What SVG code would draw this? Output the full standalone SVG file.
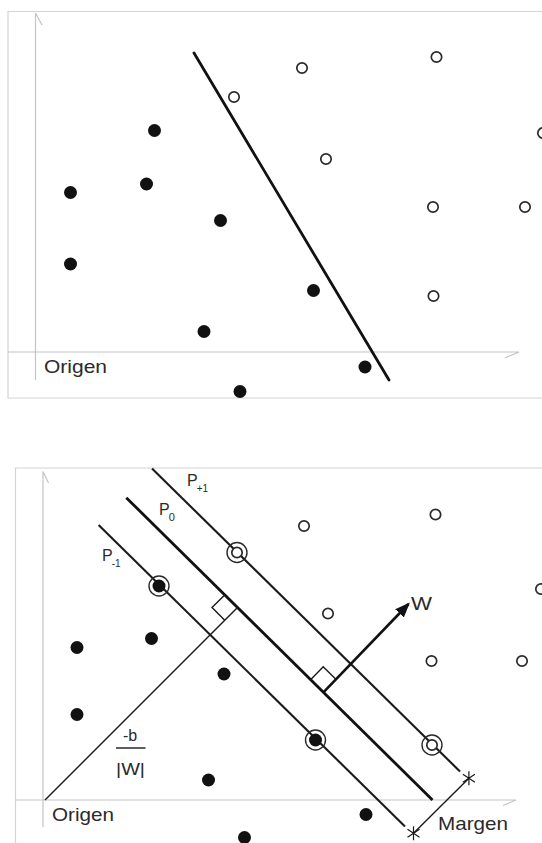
<svg xmlns="http://www.w3.org/2000/svg" width="542" height="843" viewBox="0 0 542 843">
<style>
.frame{fill:none;stroke:#d4d4d4;stroke-width:1.2}
.axis{fill:none;stroke:#c4c4c4;stroke-width:1.2}
.sep{fill:none;stroke:#111;stroke-width:2.8;stroke-linecap:round}
.p0{fill:none;stroke:#111;stroke-width:2.8}
.p1{fill:none;stroke:#1a1a1a;stroke-width:2.1}
.thin{fill:none;stroke:#1a1a1a;stroke-width:1.4}
.open{fill:#fff;stroke:#2a2a2a;stroke-width:1.7}
.ring{fill:none;stroke:#2a2a2a;stroke-width:1.4}
.fill{fill:#111;stroke:none}
.lbl{font-family:"Liberation Sans",Arial,sans-serif;fill:#2a2a2a}
.big{font-size:18.5px}
.pl{font-size:16px}
</style>
<defs>
<marker id="arrow" markerUnits="userSpaceOnUse" markerWidth="16" markerHeight="12" refX="13" refY="6" orient="auto">
<path d="M0,0 L15,6 L0,12 Z" fill="#111"/>
</marker>
<g id="star"><path d="M0,-7 V7 M-6,-4 L6,4 M-6,4 L6,-4" stroke="#1a1a1a" stroke-width="1.2" fill="none"/></g>
<circle id="o" r="5.2" class="open"/>
<circle id="f" r="6.5" class="fill"/>
</defs>
<rect width="542" height="843" fill="#fff"/>

<g id="top-panel">
<g id="top-frame">
<path class="frame" d="M542,11.5 H8 V398 H542"/>
</g>
<g id="top-axes">
<path class="axis" d="M35.5,13 V380 M35.5,13 L42,25"/>
<path class="axis" d="M8,352 H519 M519,352 L505,358"/>
</g>
<g id="top-origin"><text class="lbl big" x="44" y="373" textLength="63" lengthAdjust="spacingAndGlyphs">Origen</text></g>
<g id="top-connectors">
<line id="top-separator" class="sep" x1="194" y1="53" x2="389" y2="380"/>
</g>
<g id="top-class-open">
<use href="#o" x="234" y="97"/>
<use href="#o" x="302" y="68"/>
<use href="#o" x="436.5" y="57"/>
<use href="#o" x="543" y="133"/>
<use href="#o" x="326" y="159"/>
<use href="#o" x="433" y="207"/>
<use href="#o" x="525" y="207"/>
<use href="#o" x="433.5" y="296"/>
</g>
<g id="top-class-filled">
<use href="#f" x="154.5" y="130.5"/>
<use href="#f" x="70.5" y="192.5"/>
<use href="#f" x="146.5" y="184"/>
<use href="#f" x="220.5" y="220.5"/>
<use href="#f" x="70.5" y="264"/>
<use href="#f" x="313.5" y="290.5"/>
<use href="#f" x="204" y="331.5"/>
<use href="#f" x="365" y="367"/>
<use href="#f" x="240" y="391.5"/>
</g>
</g>

<g id="bottom-panel">
<g id="bottom-frame">
<path class="frame" d="M542,468 H15.5 V843"/>
</g>
<g id="bottom-axes">
<path class="axis" d="M43,471.5 V827 M43,471.5 L48.5,483"/>
<path class="axis" d="M15.5,800 H516 M516,800 L503,805.5"/>
</g>
<g id="connectors">
<line id="P+1-line" class="p1" x1="152" y1="468.5" x2="460" y2="771.5"/>
<line id="P0-line" class="p0" x1="126.3" y1="497.7" x2="432.5" y2="800"/>
<line id="P-1-line" class="p1" x1="98.6" y1="525" x2="405" y2="826.5"/>
<line id="b-distance" class="thin" x1="45" y1="800" x2="237.5" y2="607.5"/>
<polyline id="right-angle-1" class="thin" points="224.7,594.9 212,607.6 224.8,620.2"/>
<polyline id="right-angle-2" class="thin" points="310.6,679.7 323.2,666.8 336.1,679.4"/>
<line id="W-vector" x1="323.4" y1="692.3" x2="408.5" y2="604" stroke="#111" stroke-width="2.6" marker-end="url(#arrow)"/>
<line id="margin-line" class="thin" x1="413.5" y1="833.3" x2="468.9" y2="778.3" stroke-width="1.2"/>
<use href="#star" x="413.5" y="833.3"/>
<use href="#star" x="468.9" y="778.3"/>
</g>
<g id="bottom-class-open">
<use href="#o" x="304" y="526"/>
<use href="#o" x="435.5" y="514.5"/>
<use href="#o" x="541" y="589"/>
<use href="#o" x="328" y="613.5"/>
<use href="#o" x="431.5" y="661"/>
<use href="#o" x="522" y="661"/>
</g>
<g id="bottom-class-filled">
<use href="#f" x="77" y="647.5"/>
<use href="#f" x="151.5" y="638.5"/>
<use href="#f" x="224" y="674"/>
<use href="#f" x="77" y="714.5"/>
<use href="#f" x="208.5" y="780"/>
<use href="#f" x="366" y="814.5"/>
<use href="#f" x="244.5" y="837.5"/>
</g>
<g id="support-vectors">
<g id="sv1"><circle class="ring" cx="237" cy="552.5" r="10"/><use href="#o" x="237" y="552.5"/></g>
<g id="sv2"><circle class="ring" cx="159" cy="586" r="10"/><use href="#f" x="159" y="586"/></g>
<g id="sv3"><circle class="ring" cx="315.5" cy="740" r="10"/><use href="#f" x="315.5" y="740"/></g>
<g id="sv4"><circle class="ring" cx="432" cy="745" r="10"/><use href="#o" x="432" y="745"/></g>
</g>
<g id="labels">
<g id="label-P+1"><text class="lbl pl" x="187" y="486">P<tspan font-size="10" dx="-1" dy="6">+1</tspan></text></g>
<g id="label-P0"><text class="lbl pl" x="159" y="515">P<tspan font-size="11" dx="-1" dy="6">0</tspan></text></g>
<g id="label-P-1"><text class="lbl pl" x="102" y="561">P<tspan font-size="10" dx="-1" dy="6">-1</tspan></text></g>
<g id="label-W"><text class="lbl big" x="411" y="610" textLength="21" lengthAdjust="spacingAndGlyphs">W</text></g>
<g id="label-b-over-W">
<text class="lbl" font-size="16" x="130" y="741" text-anchor="middle">-b</text>
<line x1="116" y1="748" x2="145.5" y2="748" stroke="#2a2a2a" stroke-width="1.5"/>
<text class="lbl" font-size="17" x="130.5" y="775" text-anchor="middle" textLength="29" lengthAdjust="spacingAndGlyphs">|W|</text>
</g>
<g id="label-origin"><text class="lbl big" x="52" y="821" textLength="62" lengthAdjust="spacingAndGlyphs">Origen</text></g>
<g id="label-margin"><text class="lbl big" x="438" y="830" textLength="70" lengthAdjust="spacingAndGlyphs">Margen</text></g>
</g>
</g>
</svg>
